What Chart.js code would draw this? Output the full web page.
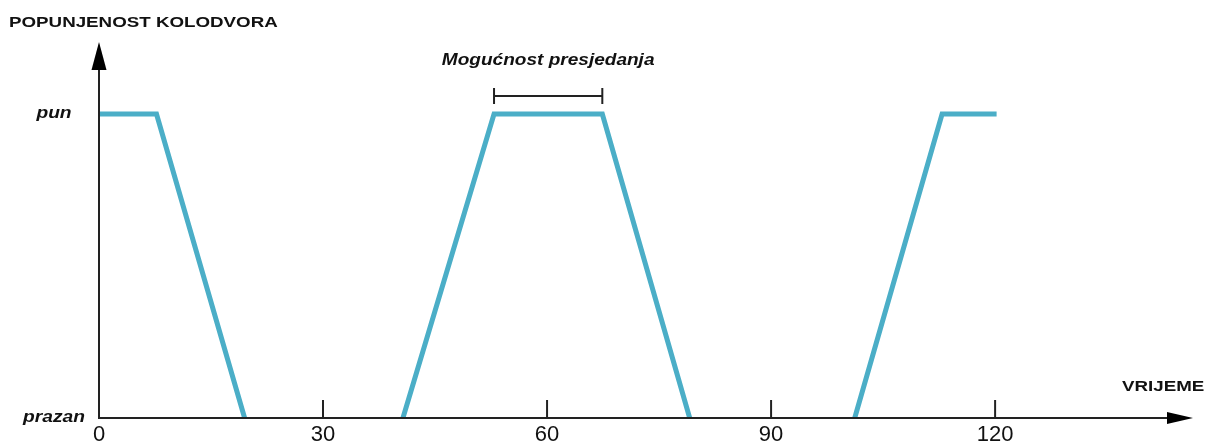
<!DOCTYPE html>
<html>
<head>
<meta charset="utf-8">
<script src="https://cdn.jsdelivr.net/npm/chart.js@4.4.0/dist/chart.umd.min.js"></script>
<style>
  body { margin: 0; background: #fff; }
  canvas { display: block; }
</style>
</head>
<body>
<canvas id="kolodvor" width="1208" height="442"></canvas>
<script>
// vrijeme (min) i popunjenost (0 = prazan, 1 = pun)
const timeValues = [0, 7.7, 19.5, 40.7, 52.9, 67.4, 79.1, 101.2, 112.9, 120.2];
const fillLevel = [1, 1, 0, 0, 1, 1, 0, 0, 1, 1];
const tickValues = [0, 30, 60, 90, 120];
const levelValues = [0, 1];
const levelLabels = ['prazan', 'pun'];
const bracketRange = [52.9, 67.4];

const axisColor = '#222';
const lineColor = 'rgb(75,174,199)';

// stretched text, the picture is wider than the font
function wideText(ctx, txt, x, y, sx, align) {
  ctx.save();
  ctx.translate(x, y);
  ctx.scale(sx, 1);
  ctx.textAlign = align || 'left';
  ctx.fillText(txt, 0, 0);
  ctx.restore();
}

const axesPlugin = {
  id: 'axesPlugin',
  afterDatasetsDraw(chart) {
    const ctx = chart.ctx;
    const xs = chart.scales.x, ys = chart.scales.y;
    const x0 = xs.getPixelForValue(0), y0 = ys.getPixelForValue(0);
    const area = chart.chartArea;
    ctx.save();
    ctx.strokeStyle = axisColor;
    ctx.fillStyle = '#000';
    ctx.lineWidth = 2;
    // y axis
    ctx.beginPath();
    ctx.moveTo(x0, y0 + 1);
    ctx.lineTo(x0, area.top + 20);
    ctx.stroke();
    ctx.beginPath();
    ctx.moveTo(x0, area.top);
    ctx.lineTo(x0 - 7.5, area.top + 28);
    ctx.lineTo(x0 + 7.5, area.top + 28);
    ctx.closePath();
    ctx.fill();
    // x axis
    ctx.beginPath();
    ctx.moveTo(x0 - 1, y0);
    ctx.lineTo(area.right - 20, y0);
    ctx.stroke();
    ctx.beginPath();
    ctx.moveTo(area.right, y0);
    ctx.lineTo(area.right - 26, y0 - 6);
    ctx.lineTo(area.right - 26, y0 + 6);
    ctx.closePath();
    ctx.fill();
    // ticks
    tickValues.forEach(v => {
      if (v === 0) return;
      const px = xs.getPixelForValue(v);
      ctx.beginPath();
      ctx.moveTo(px, y0);
      ctx.lineTo(px, y0 - 18);
      ctx.stroke();
    });
    // bracket
    const bx1 = xs.getPixelForValue(bracketRange[0]);
    const bx2 = xs.getPixelForValue(bracketRange[1]);
    const by = ys.getPixelForValue(1) - 18;
    ctx.beginPath();
    ctx.moveTo(bx1, by);
    ctx.lineTo(bx2, by);
    ctx.moveTo(bx1, by - 8);
    ctx.lineTo(bx1, by + 8);
    ctx.moveTo(bx2, by - 8);
    ctx.lineTo(bx2, by + 8);
    ctx.stroke();
    ctx.restore();
  },
  afterDraw(chart) {
    const ctx = chart.ctx;
    const xs = chart.scales.x, ys = chart.scales.y;
    ctx.save();
    ctx.fillStyle = '#111';
    ctx.font = 'bold 15px "Liberation Sans", Arial, sans-serif';
    wideText(ctx, 'POPUNJENOST KOLODVORA', 9, 27, 1.25);
    wideText(ctx, 'VRIJEME', 1122, 391, 1.25);
    ctx.font = 'italic bold 16px "Liberation Sans", Arial, sans-serif';
    const mid = (xs.getPixelForValue(bracketRange[0]) + xs.getPixelForValue(bracketRange[1])) / 2;
    wideText(ctx, 'Mogućnost presjedanja', mid, 65, 1.19, 'center');
    levelValues.forEach((v, i) => {
      wideText(ctx, levelLabels[i], 54, ys.getPixelForValue(v) + 4, 1.2, 'center');
    });
    ctx.font = '22px "Liberation Sans", Arial, sans-serif';
    ctx.textAlign = 'center';
    tickValues.forEach(v => {
      ctx.fillText(String(v), xs.getPixelForValue(v), 441);
    });
    ctx.restore();
  }
};

new Chart(document.getElementById('kolodvor'), {
  type: 'line',
  data: {
    datasets: [{
      data: timeValues.map((t, i) => ({ x: t, y: fillLevel[i] })),
      borderColor: lineColor,
      borderWidth: 5,
      borderJoinStyle: 'miter',
      borderCapStyle: 'butt',
      pointRadius: 0,
      tension: 0,
      fill: false,
      segment: {
        // prazan dio leži na osi, ne crta se
        borderColor: c => (c.p0.parsed.y === 0 && c.p1.parsed.y === 0) ? 'rgba(0,0,0,0)' : lineColor
      }
    }]
  },
  options: {
    responsive: false,
    devicePixelRatio: 1,
    animation: false,
    layout: { padding: { left: 99, right: 15, top: 42, bottom: 24 } },
    plugins: { legend: { display: false }, tooltip: { enabled: false } },
    scales: {
      x: { type: 'linear', min: 0, max: 146.5, display: false },
      y: { min: 0, max: 1.237, display: false }
    }
  },
  plugins: [axesPlugin]
});
</script>
</body>
</html>
